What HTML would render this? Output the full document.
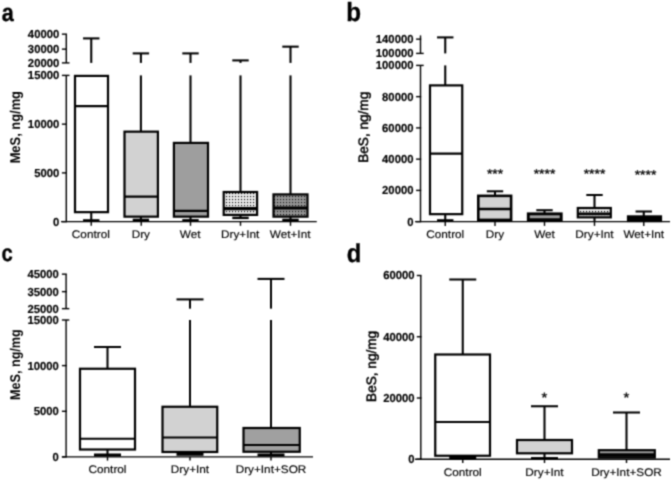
<!DOCTYPE html>
<html><head><meta charset="utf-8"><title>Figure</title>
<style>
html,body{margin:0;padding:0;background:#fff;}
body{width:671px;height:480px;overflow:hidden;}
svg{display:block;will-change:transform;text-rendering:geometricPrecision;font-family:"Liberation Sans",sans-serif;fill:#000;}
</style></head><body>
<svg width="671" height="480" viewBox="0 0 671 480">
<g filter="url(#bl)">
<rect x="0" y="0" width="671" height="480" fill="#fff" stroke="none"/>
<defs>
<filter id="bl" x="0" y="0" width="671" height="480" filterUnits="userSpaceOnUse" color-interpolation-filters="sRGB"><feConvolveMatrix order="3" kernelMatrix="0.04 0.12 0.04 0.12 0.36 0.12 0.04 0.12 0.04" divisor="1" edgeMode="duplicate" preserveAlpha="true"/></filter>
<pattern id="p1" width="3" height="3" patternUnits="userSpaceOnUse"><rect width="3" height="3" fill="#e8e8e8"/><rect x="1" y="1" width="1.1" height="1.1" fill="#000"/></pattern>
<pattern id="p2" width="3" height="3" patternUnits="userSpaceOnUse"><rect width="3" height="3" fill="#949494"/><rect x="1" y="1" width="1.1" height="1.1" fill="#111"/></pattern>
</defs>
<text transform="translate(1.8,21.3) scale(0.87,1)" font-size="24.8" font-weight="bold" text-anchor="start" stroke="#000" stroke-width="0.35">a</text>
<line x1="66.3" y1="34.15" x2="66.3" y2="62.9" stroke="#000" stroke-width="1.4"/>
<line x1="66.3" y1="75.4" x2="66.3" y2="221.65" stroke="#000" stroke-width="1.4"/>
<line x1="61.9" y1="34.15" x2="67" y2="34.15" stroke="#000" stroke-width="1.4"/>
<line x1="61.9" y1="49.15" x2="67" y2="49.15" stroke="#000" stroke-width="1.4"/>
<line x1="61.9" y1="62.9" x2="69.5" y2="62.9" stroke="#000" stroke-width="1.4"/>
<line x1="61.9" y1="75.4" x2="69.5" y2="75.4" stroke="#000" stroke-width="1.4"/>
<line x1="61.9" y1="124.15" x2="67" y2="124.15" stroke="#000" stroke-width="1.4"/>
<line x1="61.9" y1="172.9" x2="67" y2="172.9" stroke="#000" stroke-width="1.4"/>
<line x1="61.9" y1="221.65" x2="67" y2="221.65" stroke="#000" stroke-width="1.4"/>
<text transform="translate(59.3,38.1) scale(0.975,1)" font-size="11.6" font-weight="bold" text-anchor="end" stroke="#000" stroke-width="0.15">40000</text>
<text transform="translate(59.3,53.1) scale(0.975,1)" font-size="11.6" font-weight="bold" text-anchor="end" stroke="#000" stroke-width="0.15">30000</text>
<text transform="translate(59.3,66.85) scale(0.975,1)" font-size="11.6" font-weight="bold" text-anchor="end" stroke="#000" stroke-width="0.15">20000</text>
<text transform="translate(59.3,79.35) scale(0.975,1)" font-size="11.6" font-weight="bold" text-anchor="end" stroke="#000" stroke-width="0.15">15000</text>
<text transform="translate(59.3,128.1) scale(0.975,1)" font-size="11.6" font-weight="bold" text-anchor="end" stroke="#000" stroke-width="0.15">10000</text>
<text transform="translate(59.3,176.85) scale(0.975,1)" font-size="11.6" font-weight="bold" text-anchor="end" stroke="#000" stroke-width="0.15">5000</text>
<text transform="translate(59.3,225.6) scale(0.975,1)" font-size="11.6" font-weight="bold" text-anchor="end" stroke="#000" stroke-width="0.15">0</text>
<line x1="61" y1="221.65" x2="316.75" y2="221.65" stroke="#000" stroke-width="1.4"/>
<text transform="translate(20.2,127.2) rotate(-90) scale(1,1.1)" font-size="12.9" font-weight="bold" text-anchor="middle" >MeS, ng/mg</text>
<line x1="91.25" y1="38.4" x2="91.25" y2="62.9" stroke="#000" stroke-width="2.05"/>
<line x1="91.25" y1="75.4" x2="91.25" y2="75.9" stroke="#000" stroke-width="2.05"/>
<line x1="83.05" y1="38.4" x2="99.45" y2="38.4" stroke="#000" stroke-width="2.05"/>
<line x1="91.25" y1="212.15" x2="91.25" y2="220.4" stroke="#000" stroke-width="2.05"/>
<line x1="83.05" y1="220.4" x2="99.45" y2="220.4" stroke="#000" stroke-width="2.4"/>
<rect x="75" y="75.9" width="33" height="136.25" fill="#fff" stroke="#000" stroke-width="2.2"/>
<line x1="75" y1="106.15" x2="108" y2="106.15" stroke="#000" stroke-width="2.2"/>
<line x1="140.9" y1="53.4" x2="140.9" y2="62.9" stroke="#000" stroke-width="2.05"/>
<line x1="140.9" y1="75.4" x2="140.9" y2="131.65" stroke="#000" stroke-width="2.05"/>
<line x1="132.7" y1="53.4" x2="149.1" y2="53.4" stroke="#000" stroke-width="2.05"/>
<line x1="140.9" y1="216.65" x2="140.9" y2="219.9" stroke="#000" stroke-width="2.05"/>
<line x1="132.7" y1="219.9" x2="149.1" y2="219.9" stroke="#000" stroke-width="2.4"/>
<rect x="124.5" y="131.65" width="33.4" height="85" fill="#d2d2d2" stroke="#000" stroke-width="2.2"/>
<line x1="124.5" y1="196.65" x2="157.9" y2="196.65" stroke="#000" stroke-width="2.2"/>
<line x1="190.5" y1="53.4" x2="190.5" y2="62.9" stroke="#000" stroke-width="2.05"/>
<line x1="190.5" y1="75.4" x2="190.5" y2="142.9" stroke="#000" stroke-width="2.05"/>
<line x1="182.3" y1="53.4" x2="198.7" y2="53.4" stroke="#000" stroke-width="2.05"/>
<line x1="190.5" y1="216.65" x2="190.5" y2="220.1" stroke="#000" stroke-width="2.05"/>
<line x1="182.3" y1="220.1" x2="198.7" y2="220.1" stroke="#000" stroke-width="2.0"/>
<rect x="173.9" y="142.9" width="34.1" height="73.75" fill="#9e9e9e" stroke="#000" stroke-width="2.2"/>
<line x1="173.9" y1="210.8" x2="208" y2="210.8" stroke="#000" stroke-width="2.2"/>
<line x1="240.5" y1="60.4" x2="240.5" y2="62.9" stroke="#000" stroke-width="2.05"/>
<line x1="240.5" y1="75.4" x2="240.5" y2="192" stroke="#000" stroke-width="2.05"/>
<line x1="232.3" y1="60.4" x2="248.7" y2="60.4" stroke="#000" stroke-width="2.05"/>
<line x1="240.5" y1="214.9" x2="240.5" y2="217.9" stroke="#000" stroke-width="2.05"/>
<line x1="232.3" y1="217.9" x2="248.7" y2="217.9" stroke="#000" stroke-width="2.4"/>
<rect x="223.7" y="192" width="33.4" height="22.9" fill="url(#p1)" stroke="#000" stroke-width="2.2"/>
<line x1="223.7" y1="208.6" x2="257.1" y2="208.6" stroke="#000" stroke-width="3.2"/>
<line x1="290.5" y1="46.65" x2="290.5" y2="62.9" stroke="#000" stroke-width="2.05"/>
<line x1="290.5" y1="75.4" x2="290.5" y2="194.4" stroke="#000" stroke-width="2.05"/>
<line x1="282.3" y1="46.65" x2="298.7" y2="46.65" stroke="#000" stroke-width="2.05"/>
<line x1="290.5" y1="216.65" x2="290.5" y2="219.9" stroke="#000" stroke-width="2.05"/>
<line x1="282.3" y1="219.9" x2="298.7" y2="219.9" stroke="#000" stroke-width="2.4"/>
<rect x="273.5" y="194.4" width="34" height="22.25" fill="url(#p2)" stroke="#000" stroke-width="2.2"/>
<line x1="273.5" y1="208" x2="307.5" y2="208" stroke="#000" stroke-width="2.8"/>
<line x1="91.25" y1="221.65" x2="91.25" y2="225.8" stroke="#000" stroke-width="1.4"/>
<text transform="translate(90.85,237.6) scale(1.07,1)" font-size="11.0" font-weight="normal" text-anchor="middle" stroke="#000" stroke-width="0.15">Control</text>
<line x1="141.25" y1="221.65" x2="141.25" y2="225.8" stroke="#000" stroke-width="1.4"/>
<text transform="translate(140.85,237.6) scale(1.07,1)" font-size="11.0" font-weight="normal" text-anchor="middle" stroke="#000" stroke-width="0.15">Dry</text>
<line x1="190.5" y1="221.65" x2="190.5" y2="225.8" stroke="#000" stroke-width="1.4"/>
<text transform="translate(190.1,237.6) scale(1.07,1)" font-size="11.0" font-weight="normal" text-anchor="middle" stroke="#000" stroke-width="0.15">Wet</text>
<line x1="240.5" y1="221.65" x2="240.5" y2="225.8" stroke="#000" stroke-width="1.4"/>
<text transform="translate(240.1,237.6) scale(1.07,1)" font-size="11.0" font-weight="normal" text-anchor="middle" stroke="#000" stroke-width="0.15">Dry+Int</text>
<line x1="290.5" y1="221.65" x2="290.5" y2="225.8" stroke="#000" stroke-width="1.4"/>
<text transform="translate(290.1,237.6) scale(1.07,1)" font-size="11.0" font-weight="normal" text-anchor="middle" stroke="#000" stroke-width="0.15">Wet+Int</text>
<text transform="translate(346.3,20.7) scale(0.92,1)" font-size="26.3" font-weight="bold" text-anchor="start" stroke="#000" stroke-width="0.35">b</text>
<line x1="420.5" y1="35.4" x2="420.5" y2="53.4" stroke="#000" stroke-width="1.4"/>
<line x1="420.5" y1="65.4" x2="420.5" y2="221.65" stroke="#000" stroke-width="1.4"/>
<line x1="416.1" y1="39.15" x2="421.2" y2="39.15" stroke="#000" stroke-width="1.4"/>
<line x1="416.1" y1="53.4" x2="423.7" y2="53.4" stroke="#000" stroke-width="1.4"/>
<line x1="416.1" y1="65.4" x2="423.7" y2="65.4" stroke="#000" stroke-width="1.4"/>
<line x1="416.1" y1="96.65" x2="421.2" y2="96.65" stroke="#000" stroke-width="1.4"/>
<line x1="416.1" y1="127.9" x2="421.2" y2="127.9" stroke="#000" stroke-width="1.4"/>
<line x1="416.1" y1="159.15" x2="421.2" y2="159.15" stroke="#000" stroke-width="1.4"/>
<line x1="416.1" y1="190.4" x2="421.2" y2="190.4" stroke="#000" stroke-width="1.4"/>
<line x1="416.1" y1="221.65" x2="421.2" y2="221.65" stroke="#000" stroke-width="1.4"/>
<text transform="translate(413.5,43.1) scale(0.975,1)" font-size="11.6" font-weight="bold" text-anchor="end" stroke="#000" stroke-width="0.15">140000</text>
<text transform="translate(413.5,57.35) scale(0.975,1)" font-size="11.6" font-weight="bold" text-anchor="end" stroke="#000" stroke-width="0.15">100000</text>
<text transform="translate(413.5,69.35) scale(0.975,1)" font-size="11.6" font-weight="bold" text-anchor="end" stroke="#000" stroke-width="0.15">100000</text>
<text transform="translate(413.5,100.6) scale(0.975,1)" font-size="11.6" font-weight="bold" text-anchor="end" stroke="#000" stroke-width="0.15">80000</text>
<text transform="translate(413.5,131.85) scale(0.975,1)" font-size="11.6" font-weight="bold" text-anchor="end" stroke="#000" stroke-width="0.15">60000</text>
<text transform="translate(413.5,163.1) scale(0.975,1)" font-size="11.6" font-weight="bold" text-anchor="end" stroke="#000" stroke-width="0.15">40000</text>
<text transform="translate(413.5,194.35) scale(0.975,1)" font-size="11.6" font-weight="bold" text-anchor="end" stroke="#000" stroke-width="0.15">20000</text>
<text transform="translate(413.5,225.6) scale(0.975,1)" font-size="11.6" font-weight="bold" text-anchor="end" stroke="#000" stroke-width="0.15">0</text>
<line x1="415" y1="221.65" x2="670" y2="221.65" stroke="#000" stroke-width="1.4"/>
<text transform="translate(367.6,127.3) rotate(-90) scale(1,1.0)" font-size="13.6" font-weight="normal" text-anchor="middle" stroke="#000" stroke-width="0.5">BeS, ng/mg</text>
<line x1="445.25" y1="37.4" x2="445.25" y2="53.4" stroke="#000" stroke-width="2.05"/>
<line x1="445.25" y1="65.4" x2="445.25" y2="85.4" stroke="#000" stroke-width="2.05"/>
<line x1="437.05" y1="37.4" x2="453.45" y2="37.4" stroke="#000" stroke-width="2.05"/>
<line x1="445.25" y1="214.15" x2="445.25" y2="220.4" stroke="#000" stroke-width="2.05"/>
<line x1="437.05" y1="220.4" x2="453.45" y2="220.4" stroke="#000" stroke-width="2.4"/>
<rect x="430" y="85.4" width="32.25" height="128.75" fill="#fff" stroke="#000" stroke-width="2.2"/>
<line x1="430" y1="153.65" x2="462.25" y2="153.65" stroke="#000" stroke-width="2.2"/>
<line x1="495" y1="191.3" x2="495" y2="195.85" stroke="#000" stroke-width="2.05"/>
<line x1="486.8" y1="191.3" x2="503.2" y2="191.3" stroke="#000" stroke-width="2.05"/>
<rect x="478.3" y="195.85" width="32.8" height="24.05" fill="#d2d2d2" stroke="#000" stroke-width="2.6"/>
<line x1="478.3" y1="209" x2="511.1" y2="209" stroke="#000" stroke-width="2.6"/>
<line x1="544.5" y1="210.2" x2="544.5" y2="213.85" stroke="#000" stroke-width="2.05"/>
<line x1="536.3" y1="210.2" x2="552.7" y2="210.2" stroke="#000" stroke-width="2.05"/>
<rect x="528.3" y="213.85" width="32.9" height="5.85" fill="#a0a0a0" stroke="#000" stroke-width="2.9"/>
<line x1="594.5" y1="217.4" x2="594.5" y2="221.4" stroke="#000" stroke-width="2.05"/>
<line x1="594.5" y1="195" x2="594.5" y2="208" stroke="#000" stroke-width="2.05"/>
<line x1="586.3" y1="195" x2="602.7" y2="195" stroke="#000" stroke-width="2.05"/>
<rect x="577.8" y="208" width="33" height="9.35" fill="url(#p1)" stroke="#000" stroke-width="2.2"/>
<line x1="577.8" y1="213.9" x2="610.8" y2="213.9" stroke="#000" stroke-width="2.6"/>
<line x1="643.75" y1="211.5" x2="643.75" y2="216.4" stroke="#000" stroke-width="2.05"/>
<line x1="635.55" y1="211.5" x2="651.95" y2="211.5" stroke="#000" stroke-width="2.05"/>
<rect x="628" y="216.4" width="33" height="4.6" fill="#000" stroke="#000" stroke-width="2.2"/>
<line x1="445.25" y1="221.65" x2="445.25" y2="225.9" stroke="#000" stroke-width="1.4"/>
<text transform="translate(445.25,237.9) scale(1.07,1)" font-size="11.0" font-weight="normal" text-anchor="middle" stroke="#000" stroke-width="0.15">Control</text>
<line x1="495" y1="221.65" x2="495" y2="225.9" stroke="#000" stroke-width="1.4"/>
<text transform="translate(495,237.9) scale(1.07,1)" font-size="11.0" font-weight="normal" text-anchor="middle" stroke="#000" stroke-width="0.15">Dry</text>
<line x1="544.5" y1="221.65" x2="544.5" y2="225.9" stroke="#000" stroke-width="1.4"/>
<text transform="translate(544.5,237.9) scale(1.07,1)" font-size="11.0" font-weight="normal" text-anchor="middle" stroke="#000" stroke-width="0.15">Wet</text>
<line x1="594.5" y1="221.65" x2="594.5" y2="225.9" stroke="#000" stroke-width="1.4"/>
<text transform="translate(594.5,237.9) scale(1.07,1)" font-size="11.0" font-weight="normal" text-anchor="middle" stroke="#000" stroke-width="0.15">Dry+Int</text>
<line x1="643.75" y1="221.65" x2="643.75" y2="225.9" stroke="#000" stroke-width="1.4"/>
<text transform="translate(643.75,237.9) scale(1.07,1)" font-size="11.0" font-weight="normal" text-anchor="middle" stroke="#000" stroke-width="0.15">Wet+Int</text>
<text transform="translate(495,177.7) scale(1.1,1)" font-size="12.6" font-weight="normal" text-anchor="middle" stroke="#000" stroke-width="0.3">***</text>
<text transform="translate(544.5,178.1) scale(1.1,1)" font-size="12.6" font-weight="normal" text-anchor="middle" stroke="#000" stroke-width="0.3">****</text>
<text transform="translate(594.5,177.7) scale(1.1,1)" font-size="12.6" font-weight="normal" text-anchor="middle" stroke="#000" stroke-width="0.3">****</text>
<text transform="translate(645.5,179.2) scale(1.1,1)" font-size="12.6" font-weight="normal" text-anchor="middle" stroke="#000" stroke-width="0.3">****</text>
<text transform="translate(1.5,260.9) scale(0.86,1)" font-size="23.5" font-weight="bold" text-anchor="start" stroke="#000" stroke-width="0.35">c</text>
<line x1="66.1" y1="274.15" x2="66.1" y2="308.65" stroke="#000" stroke-width="1.4"/>
<line x1="66.1" y1="320" x2="66.1" y2="456.9" stroke="#000" stroke-width="1.4"/>
<line x1="61.9" y1="274.15" x2="66.8" y2="274.15" stroke="#000" stroke-width="1.4"/>
<line x1="61.9" y1="291.65" x2="66.8" y2="291.65" stroke="#000" stroke-width="1.4"/>
<line x1="61.9" y1="308.65" x2="69.3" y2="308.65" stroke="#000" stroke-width="1.4"/>
<line x1="61.9" y1="320" x2="69.3" y2="320" stroke="#000" stroke-width="1.4"/>
<line x1="61.9" y1="365.6" x2="66.8" y2="365.6" stroke="#000" stroke-width="1.4"/>
<line x1="61.9" y1="411.3" x2="66.8" y2="411.3" stroke="#000" stroke-width="1.4"/>
<line x1="61.9" y1="456.9" x2="66.8" y2="456.9" stroke="#000" stroke-width="1.4"/>
<text transform="translate(58.9,278.1) scale(0.975,1)" font-size="11.6" font-weight="bold" text-anchor="end" stroke="#000" stroke-width="0.15">45000</text>
<text transform="translate(58.9,295.6) scale(0.975,1)" font-size="11.6" font-weight="bold" text-anchor="end" stroke="#000" stroke-width="0.15">35000</text>
<text transform="translate(58.9,312.6) scale(0.975,1)" font-size="11.6" font-weight="bold" text-anchor="end" stroke="#000" stroke-width="0.15">25000</text>
<text transform="translate(58.9,323.95) scale(0.975,1)" font-size="11.6" font-weight="bold" text-anchor="end" stroke="#000" stroke-width="0.15">15000</text>
<text transform="translate(58.9,369.55) scale(0.975,1)" font-size="11.6" font-weight="bold" text-anchor="end" stroke="#000" stroke-width="0.15">10000</text>
<text transform="translate(58.9,415.25) scale(0.975,1)" font-size="11.6" font-weight="bold" text-anchor="end" stroke="#000" stroke-width="0.15">5000</text>
<text transform="translate(58.9,460.85) scale(0.975,1)" font-size="11.6" font-weight="bold" text-anchor="end" stroke="#000" stroke-width="0.15">0</text>
<line x1="61.9" y1="456.9" x2="313" y2="456.9" stroke="#000" stroke-width="1.4"/>
<text transform="translate(20.2,364.6) rotate(-90) scale(1,1.12)" font-size="12.6" font-weight="bold" text-anchor="middle" >MeS, ng/mg</text>
<line x1="107.5" y1="347" x2="107.5" y2="368.75" stroke="#000" stroke-width="2.05"/>
<line x1="94" y1="347" x2="121" y2="347" stroke="#000" stroke-width="2.05"/>
<line x1="107.5" y1="449.5" x2="107.5" y2="455" stroke="#000" stroke-width="2.05"/>
<line x1="94" y1="455" x2="121" y2="455" stroke="#000" stroke-width="3"/>
<rect x="80" y="368.75" width="55" height="80.75" fill="#fff" stroke="#000" stroke-width="2.2"/>
<line x1="80" y1="438.75" x2="135" y2="438.75" stroke="#000" stroke-width="2.2"/>
<line x1="190" y1="299.4" x2="190" y2="308.65" stroke="#000" stroke-width="2.05"/>
<line x1="190" y1="320" x2="190" y2="406.75" stroke="#000" stroke-width="2.05"/>
<line x1="176.5" y1="299.4" x2="203.5" y2="299.4" stroke="#000" stroke-width="2.05"/>
<line x1="190" y1="452" x2="190" y2="454.25" stroke="#000" stroke-width="2.05"/>
<line x1="176.5" y1="454.25" x2="203.5" y2="454.25" stroke="#000" stroke-width="3"/>
<rect x="162.5" y="406.75" width="54.75" height="45.25" fill="#d2d2d2" stroke="#000" stroke-width="2.2"/>
<line x1="162.5" y1="437.5" x2="217.25" y2="437.5" stroke="#000" stroke-width="2.2"/>
<line x1="271" y1="278.9" x2="271" y2="308.65" stroke="#000" stroke-width="2.05"/>
<line x1="271" y1="320" x2="271" y2="428" stroke="#000" stroke-width="2.05"/>
<line x1="257.5" y1="278.9" x2="284.5" y2="278.9" stroke="#000" stroke-width="2.05"/>
<line x1="271" y1="451.75" x2="271" y2="455" stroke="#000" stroke-width="2.05"/>
<line x1="257.5" y1="455" x2="284.5" y2="455" stroke="#000" stroke-width="3"/>
<rect x="243.5" y="428" width="56.25" height="23.75" fill="#a0a0a0" stroke="#000" stroke-width="2.2"/>
<line x1="243.5" y1="445" x2="299.75" y2="445" stroke="#000" stroke-width="2.2"/>
<line x1="107.5" y1="456.9" x2="107.5" y2="460.6" stroke="#000" stroke-width="1.4"/>
<text transform="translate(107.5,473.25) scale(1.07,1)" font-size="11.0" font-weight="normal" text-anchor="middle" stroke="#000" stroke-width="0.15">Control</text>
<line x1="190" y1="456.9" x2="190" y2="460.6" stroke="#000" stroke-width="1.4"/>
<text transform="translate(190,473.25) scale(1.07,1)" font-size="11.0" font-weight="normal" text-anchor="middle" stroke="#000" stroke-width="0.15">Dry+Int</text>
<line x1="271" y1="456.9" x2="271" y2="460.6" stroke="#000" stroke-width="1.4"/>
<text transform="translate(271,473.25) scale(1.07,1)" font-size="11.0" font-weight="normal" text-anchor="middle" stroke="#000" stroke-width="0.15">Dry+Int+SOR</text>
<text transform="translate(346.8,261.6) scale(0.93,1)" font-size="25.6" font-weight="bold" text-anchor="start" stroke="#000" stroke-width="0.35">d</text>
<line x1="420.8" y1="275.5" x2="420.8" y2="459.25" stroke="#000" stroke-width="1.4"/>
<line x1="416.8" y1="275.5" x2="421.5" y2="275.5" stroke="#000" stroke-width="1.4"/>
<line x1="416.8" y1="336.75" x2="421.5" y2="336.75" stroke="#000" stroke-width="1.4"/>
<line x1="416.8" y1="398" x2="421.5" y2="398" stroke="#000" stroke-width="1.4"/>
<line x1="416.8" y1="459.25" x2="421.5" y2="459.25" stroke="#000" stroke-width="1.4"/>
<text transform="translate(414.6,279.45) scale(0.975,1)" font-size="11.6" font-weight="bold" text-anchor="end" stroke="#000" stroke-width="0.15">60000</text>
<text transform="translate(414.6,340.7) scale(0.975,1)" font-size="11.6" font-weight="bold" text-anchor="end" stroke="#000" stroke-width="0.15">40000</text>
<text transform="translate(414.6,401.95) scale(0.975,1)" font-size="11.6" font-weight="bold" text-anchor="end" stroke="#000" stroke-width="0.15">20000</text>
<text transform="translate(414.6,463.2) scale(0.975,1)" font-size="11.6" font-weight="bold" text-anchor="end" stroke="#000" stroke-width="0.15">0</text>
<line x1="415" y1="459.25" x2="670" y2="459.25" stroke="#000" stroke-width="1.4"/>
<text transform="translate(375.7,366.4) rotate(-90) scale(1,1.0)" font-size="13.6" font-weight="normal" text-anchor="middle" stroke="#000" stroke-width="0.5">BeS, ng/mg</text>
<line x1="462.75" y1="279.5" x2="462.75" y2="354.5" stroke="#000" stroke-width="2.05"/>
<line x1="449.25" y1="279.5" x2="476.25" y2="279.5" stroke="#000" stroke-width="2.05"/>
<line x1="462.75" y1="455.75" x2="462.75" y2="457.5" stroke="#000" stroke-width="2.05"/>
<line x1="449.25" y1="457.5" x2="476.25" y2="457.5" stroke="#000" stroke-width="3"/>
<rect x="435.25" y="354.5" width="54.75" height="101.25" fill="#fff" stroke="#000" stroke-width="2.2"/>
<line x1="435.25" y1="422" x2="490" y2="422" stroke="#000" stroke-width="2.2"/>
<line x1="544.5" y1="406.25" x2="544.5" y2="440" stroke="#000" stroke-width="2.05"/>
<line x1="531" y1="406.25" x2="558" y2="406.25" stroke="#000" stroke-width="2.05"/>
<line x1="544.5" y1="453.3" x2="544.5" y2="458.25" stroke="#000" stroke-width="2.05"/>
<line x1="531" y1="458.25" x2="558" y2="458.25" stroke="#000" stroke-width="2.4"/>
<rect x="517" y="440" width="55" height="13.3" fill="#d2d2d2" stroke="#000" stroke-width="2.2"/>
<line x1="626.5" y1="412.5" x2="626.5" y2="450.2" stroke="#000" stroke-width="2.05"/>
<line x1="613" y1="412.5" x2="640" y2="412.5" stroke="#000" stroke-width="2.05"/>
<rect x="598.8" y="450.2" width="56" height="7.3" fill="#a0a0a0" stroke="#000" stroke-width="2.2"/>
<line x1="598.8" y1="455" x2="654.8" y2="455" stroke="#000" stroke-width="3.4"/>
<line x1="462.75" y1="459.25" x2="462.75" y2="463" stroke="#000" stroke-width="1.4"/>
<text transform="translate(462.75,476) scale(1.07,1)" font-size="11.0" font-weight="normal" text-anchor="middle" stroke="#000" stroke-width="0.15">Control</text>
<line x1="544.5" y1="459.25" x2="544.5" y2="463" stroke="#000" stroke-width="1.4"/>
<text transform="translate(544.5,476) scale(1.07,1)" font-size="11.0" font-weight="normal" text-anchor="middle" stroke="#000" stroke-width="0.15">Dry+Int</text>
<line x1="626.5" y1="459.25" x2="626.5" y2="463" stroke="#000" stroke-width="1.4"/>
<text transform="translate(626.5,476) scale(1.07,1)" font-size="11.0" font-weight="normal" text-anchor="middle" stroke="#000" stroke-width="0.15">Dry+Int+SOR</text>
<text transform="translate(544.5,402.2) scale(1.1,1)" font-size="13.5" font-weight="normal" text-anchor="middle" stroke="#000" stroke-width="0.3">*</text>
<text transform="translate(626.5,402.2) scale(1.1,1)" font-size="13.5" font-weight="normal" text-anchor="middle" stroke="#000" stroke-width="0.3">*</text>
</g>
</svg>
</body></html>
